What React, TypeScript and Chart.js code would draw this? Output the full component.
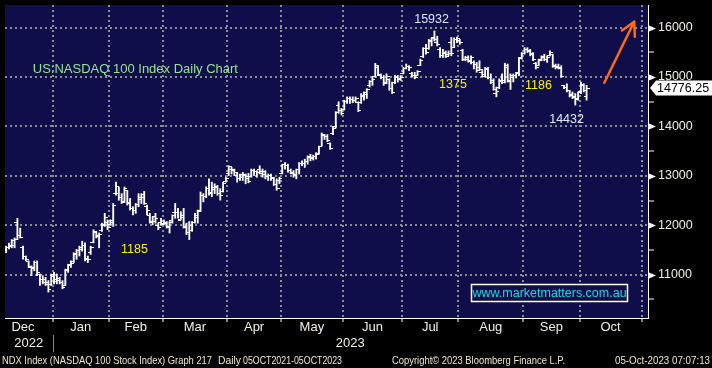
import { useEffect, useRef } from 'react';
import { Chart, registerables } from 'chart.js';

Chart.register(...registerables);

// Daily OHLC bars, trading-day index 0..207 (Dec 2022 -> 4 Oct 2023)
const OPEN = [
  11700, 11500, 11560, 11580, 11600, 12050, 11800, 11540, 11360, 11270, 11150, 11140, 11250, 11000, 10900, 10900, 10850, 10800,
  11000, 10900, 10880, 10850, 10780, 11100, 11200, 11260, 11400, 11480, 11500, 11600, 11330, 11440, 11660, 11860, 11780, 11900, 12000, 12050,
  12020, 12050, 12650, 12650, 12560, 12480, 12700, 12470, 12340, 12300, 12420, 12520, 12560, 12380, 12200, 12070, 12180, 12000, 12050,
  12040, 12050, 11950, 12100, 12250, 12250, 12120, 12200, 11980, 11850, 12000, 12060, 12150, 12300, 12600, 12580, 12750, 12660, 12720, 12760, 12640, 12680, 12880, 13050,
  13120, 13120, 13000, 12940, 12960, 13020, 12990, 12980, 13100, 13080, 13120, 13040, 13020, 12990, 13000, 12940, 12820, 12900, 13050,
  13230, 13200, 13100, 13050, 13020, 13130, 13250, 13260, 13300, 13400, 13380, 13400, 13450, 13600, 13820, 13800, 13650, 13850, 14000, 14420, 14330, 14350,
  14500, 14560, 14540, 14520, 14480, 14480, 14600, 14680, 14820, 14900, 15020, 15200, 15040, 14990, 14880, 14950, 14760, 14880, 15010, 14960, 15080,
  15180, 15220, 15080, 15030, 15040, 15240, 15420, 15580, 15580, 15720, 15800, 15700, 15560, 15440, 15490, 15450, 15700, 15600, 15760,
  15740, 15540, 15350, 15400, 15330, 15300, 15250, 15200, 15100, 15020, 15160, 15000, 14920, 14660, 14790, 14900, 14920, 15230, 14900, 15030, 15040, 15100, 15400,
  15480, 15560, 15520, 15470, 15280, 15240, 15350, 15400, 15350, 15440, 15460, 15230, 15210, 15200, 14820, 14780, 14720, 14640, 14600, 14560,
  14700, 14830, 14600,
];
const HIGH = [
  11776, 11577, 11640, 11710, 11743, 12142, 11942, 11577, 11378, 11278, 11179, 11278, 11278, 11013, 10980, 10946, 10880, 11013,
  11046, 11013, 10946, 10880, 11112, 11212, 11280, 11444, 11510, 11577, 11677, 11644, 11378, 11577, 11909, 11876, 11843, 12042, 12241, 12109,
  12109, 12441, 12873, 12773, 12640, 12773, 12707, 12541, 12375, 12441, 12640, 12640, 12687, 12408, 12242, 12175, 12242, 12043, 12142,
  12109, 12076, 12076, 12209, 12441, 12341, 12275, 12341, 12043, 12076, 12076, 12242, 12308, 12673, 12640, 12780, 12939, 12873, 12839, 12806, 12740, 12872, 12972, 13204,
  13171, 13138, 13072, 13038, 13072, 13038, 13050, 13138, 13138, 13105, 13204, 13138, 13105, 13038, 13038, 12972, 12939, 12972, 13237,
  13271, 13237, 13138, 13105, 13138, 13271, 13304, 13337, 13404, 13437, 13420, 13470, 13603, 13868, 13840, 13835, 13669, 14001, 14300, 14499, 14366, 14532,
  14599, 14599, 14599, 14599, 14499, 14665, 14699, 14765, 14931, 14997, 15276, 15230, 15064, 15030, 15064, 14964, 14897, 15030, 15030, 15030, 15196,
  15263, 15230, 15097, 15097, 15130, 15362, 15595, 15661, 15761, 15794, 15932, 15827, 15595, 15562, 15528, 15528, 15800, 15794, 15807,
  15761, 15562, 15420, 15430, 15430, 15330, 15296, 15330, 15130, 15197, 15197, 15064, 14964, 14798, 14964, 15064, 15280, 15262, 15063, 15063, 15096, 15395, 15495,
  15594, 15594, 15561, 15495, 15296, 15362, 15428, 15462, 15428, 15528, 15462, 15262, 15262, 15229, 14831, 14864, 14731, 14698, 14665, 14698,
  14897, 14864, 14831,
];
const LOW = [
  11444, 11444, 11520, 11544, 11544, 11710, 11743, 11312, 11278, 11146, 10980, 11079, 10980, 10780, 10814, 10780, 10648, 10780,
  10814, 10814, 10814, 10714, 10780, 11046, 11146, 11245, 11312, 11378, 11478, 11280, 11245, 11410, 11644, 11743, 11544, 11876, 11976, 11910,
  12009, 11976, 12607, 12507, 12441, 12460, 12408, 12308, 12209, 12242, 12375, 12441, 12421, 12209, 12043, 12009, 12043, 11910, 12009,
  12009, 11943, 11843, 12043, 12142, 12142, 12109, 11943, 11810, 11711, 11877, 12043, 12043, 12275, 12474, 12560, 12607, 12580, 12640, 12607, 12508, 12673, 12872, 13005,
  13038, 13005, 12872, 12906, 12906, 12840, 12860, 12972, 13005, 12972, 13038, 12972, 12939, 12906, 12906, 12806, 12707, 12840, 13038,
  13138, 13072, 13038, 12972, 12939, 13038, 13204, 13171, 13237, 13304, 13320, 13340, 13437, 13603, 13736, 13690, 13536, 13835, 13968, 14267, 14233, 14333,
  14466, 14466, 14480, 14500, 14300, 14466, 14532, 14566, 14798, 14831, 14997, 15030, 14964, 14831, 14864, 14732, 14665, 14864, 14897, 14931, 15064,
  15163, 15130, 14997, 14964, 15030, 15230, 15396, 15462, 15562, 15628, 15728, 15628, 15396, 15396, 15396, 15429, 15430, 15595, 15694,
  15661, 15330, 15330, 15300, 15263, 15164, 15097, 15130, 14998, 14998, 14964, 14865, 14732, 14599, 14765, 14865, 14880, 14897, 14750, 14900, 14980, 15030, 15362,
  15462, 15495, 15428, 15329, 15163, 15229, 15329, 15329, 15296, 15428, 15196, 15163, 15163, 14997, 14764, 14698, 14598, 14565, 14432, 14532,
  14665, 14698, 14532,
];
const CLOSE = [
  11480, 11540, 11600, 11690, 11720, 11800, 11760, 11360, 11300, 11170, 11130, 11240, 11050, 10900, 10840, 10800, 10690, 10960,
  10860, 10930, 10850, 10740, 11080, 11180, 11220, 11420, 11490, 11560, 11600, 11310, 11300, 11560, 11880, 11800, 11820, 12010, 12160, 11950,
  12090, 12400, 12780, 12560, 12470, 12740, 12450, 12330, 12290, 12420, 12560, 12620, 12440, 12300, 12060, 12080, 12130, 11950, 12020,
  12040, 11980, 12050, 12200, 12250, 12100, 12160, 11960, 11850, 11900, 12060, 12200, 12280, 12600, 12580, 12740, 12640, 12760, 12780, 12650, 12600, 12850, 12950, 13180,
  13100, 13060, 12950, 13020, 13000, 12950, 12880, 13110, 13080, 13070, 13080, 13090, 12990, 13010, 12960, 12830, 12750, 12950, 13220,
  13200, 13110, 13060, 13000, 13120, 13250, 13240, 13300, 13380, 13360, 13400, 13440, 13590, 13840, 13790, 13720, 13560, 13950, 14280, 14330, 14260, 14500,
  14560, 14540, 14520, 14560, 14320, 14620, 14650, 14740, 14900, 14960, 15230, 15060, 15000, 14860, 15020, 14760, 14680, 15000, 14980, 15000, 15180,
  15220, 15200, 15040, 14990, 15110, 15340, 15570, 15490, 15730, 15770, 15760, 15660, 15430, 15470, 15420, 15480, 15470, 15760, 15780,
  15700, 15350, 15360, 15320, 15400, 15260, 15130, 15150, 15060, 15180, 15000, 14880, 14750, 14700, 14940, 14890, 15200, 14920, 15000, 15040, 15080, 15380, 15470,
  15560, 15530, 15460, 15350, 15200, 15330, 15410, 15360, 15400, 15500, 15220, 15200, 15180, 15010, 14790, 14730, 14620, 14590, 14540, 14680,
  14840, 14720, 14776.25,
];

// Axis labels / ticks
const MONTH_LABELS = ['Dec', 'Jan', 'Feb', 'Mar', 'Apr', 'May', 'Jun', 'Jul', 'Aug', 'Sep', 'Oct'];
// month edges expressed in trading-day index (half way between last and first session)
const MONTH_EDGES = [-3.5, 17.5, 37.5, 56.5, 79.5, 98.5, 120.5, 141.5, 161.5, 184.5, 204.5, 226.5];
const YEAR_LABELS = ['2022', '2023'];
const Y_TICKS = [10500, 11000, 11500, 12000, 12500, 13000, 13500, 14000, 14500, 15000, 15500, 16000];
const LAST_PRICE = 14776.25;

// Axis ranges
const X_MIN = 0.6;
const X_MAX = 228.8;
const Y_MIN = 10123;
const Y_MAX = 16458;

const FONT = '"Liberation Sans", Arial, sans-serif';
const NAVY = '#0f0e4a';
const GRID = '#8e8e8e';
const AXIS_TEXT = '#f2efe4';

const TITLE = 'US:NASDAQ 100 Index Daily Chart';
const TITLE_AT = { i: 10.46, v: 15163 };
const NOTES = [
  { text: '15932', i: 152.0, v: 16159, color: '#d6e6ff' },
  { text: '1375', i: 159.6, v: 14844, color: '#f4f400' },
  { text: '1186', i: 189.9, v: 14824, color: '#f4f400' },
  { text: '1185', i: 46.56, v: 11517, color: '#f4f400' },
  { text: '14432', i: 199.9, v: 14147, color: '#e4ecff' },
];
const WEB_TEXT = 'www.marketmatters.com.au';
const WEB_BOX = { i0: 166.1, i1: 221.4, v0: 10820, v1: 10462 };
const ARROW = { i0: 213.3, v0: 14884, i1: 223.9, v1: 16119 };
const FOOTER = [
  { text: 'NDX Index (NASDAQ 100 Stock Index) Graph 217', x: 2, w: 210 },
  { text: 'Daily', x: 218, w: 23 },
  { text: '05OCT2021-05OCT2023', x: 243, w: 99 },
  { text: 'Copyright\u00A9 2023 Bloomberg Finance L.P.', x: 392, w: 173 },
  { text: '05-Oct-2023 07:07:13', x: 615, w: 95 },
];

type XmItem = { value: number; label: string | string[] };
function buildMonthTicks(): XmItem[] {
  const items: XmItem[] = [];
  MONTH_LABELS.forEach((m, k) => {
    items.push({ value: (MONTH_EDGES[k] + MONTH_EDGES[k + 1]) / 2, label: m });
  });
  const yearSpans = [
    [X_MIN, MONTH_EDGES[1]],
    [MONTH_EDGES[1], X_MAX],
  ];
  YEAR_LABELS.forEach((y, k) => {
    items.push({ value: (yearSpans[k][0] + yearSpans[k][1]) / 2, label: ['', y] });
  });
  items.sort((a, b) => a.value - b.value);
  return items;
}

const zeroPad = (s: any) => {
  s.paddingTop = 0;
  s.paddingBottom = 0;
  s.paddingLeft = 0;
  s.paddingRight = 0;
};

export default function App() {
  const canvasRef = useRef<HTMLCanvasElement | null>(null);

  useEffect(() => {
    const canvas = canvasRef.current;
    if (!canvas) return;

    const mkTick = (left: boolean) => {
      const c = document.createElement('canvas');
      c.width = 6;
      c.height = 1;
      const g = c.getContext('2d')!;
      g.fillStyle = '#ffffff';
      g.fillRect(left ? 0 : 3, 0, 3, 1);
      return c;
    };
    const openImg = mkTick(true);
    const closeImg = mkTick(false);
    const idx = CLOSE.map((_, i) => i);
    const xmItems = buildMonthTicks();

    const decor = {
      id: 'bbDecor',
      beforeDraw(chart: any) {
        const { ctx, chartArea: a, width, height } = chart;
        ctx.save();
        ctx.fillStyle = '#000000';
        ctx.fillRect(0, 0, width, height);
        ctx.fillStyle = NAVY;
        ctx.fillRect(a.left, a.top, a.right - a.left, a.bottom - a.top);
        ctx.restore();
      },
      afterDatasetsDraw(chart: any) {
        const { ctx } = chart;
        const xs = chart.scales.x;
        const ys = chart.scales.y;
        const X = (i: number) => xs.getPixelForValue(i);
        const Y = (v: number) => ys.getPixelForValue(v);
        ctx.save();
        ctx.textBaseline = 'middle';
        ctx.textAlign = 'left';
        ctx.font = `13px ${FONT}`;
        ctx.fillStyle = '#93e793';
        ctx.fillText(TITLE, X(TITLE_AT.i), Y(TITLE_AT.v));

        ctx.textAlign = 'center';
        ctx.font = `12.5px ${FONT}`;
        NOTES.forEach((n) => {
          ctx.fillStyle = n.color;
          ctx.fillText(n.text, X(n.i), Y(n.v));
        });

        // website box
        const bx0 = Math.round(X(WEB_BOX.i0)) + 0.5;
        const bx1 = Math.round(X(WEB_BOX.i1)) + 0.5;
        const by0 = Math.round(Y(WEB_BOX.v0)) + 0.5;
        const by1 = Math.round(Y(WEB_BOX.v1)) + 0.5;
        ctx.fillStyle = NAVY;
        ctx.fillRect(bx0, by0, bx1 - bx0, by1 - by0);
        ctx.strokeStyle = '#ffffff';
        ctx.lineWidth = 1.5;
        ctx.strokeRect(bx0, by0, bx1 - bx0, by1 - by0);
        ctx.fillStyle = '#10dde8';
        ctx.font = `12.5px ${FONT}`;
        ctx.fillText(WEB_TEXT, (bx0 + bx1) / 2, (by0 + by1) / 2 + 0.5);

        // orange arrow
        const x1 = X(ARROW.i0), y1 = Y(ARROW.v0), x2 = X(ARROW.i1), y2 = Y(ARROW.v1);
        ctx.strokeStyle = '#ff6a14';
        ctx.lineWidth = 2.5;
        ctx.lineCap = 'round';
        ctx.lineJoin = 'round';
        ctx.beginPath();
        ctx.moveTo(x1, y1);
        ctx.lineTo(x2, y2);
        ctx.stroke();
        const ang = Math.atan2(y2 - y1, x2 - x1);
        const L = 15, spread = 0.5;
        ctx.beginPath();
        ctx.moveTo(x2 - L * Math.cos(ang - spread), y2 - L * Math.sin(ang - spread));
        ctx.lineTo(x2, y2);
        ctx.lineTo(x2 - L * Math.cos(ang + spread), y2 - L * Math.sin(ang + spread));
        ctx.stroke();
        ctx.restore();
      },
      afterDraw(chart: any) {
        const { ctx, chartArea: a, width, height } = chart;
        const xs = chart.scales.x;
        const ys = chart.scales.y;
        ctx.save();
        // major y tick pointers
        ctx.fillStyle = '#ffffff';
        Y_TICKS.filter((v) => v % 1000 === 0).forEach((v) => {
          const py = Math.round(ys.getPixelForValue(v)) + 0.5;
          ctx.beginPath();
          ctx.moveTo(a.right + 1, py - 3);
          ctx.lineTo(a.right + 8, py);
          ctx.lineTo(a.right + 1, py + 3);
          ctx.closePath();
          ctx.fill();
        });
        // last price box
        const lp = ys.getPixelForValue(LAST_PRICE);
        ctx.beginPath();
        ctx.moveTo(a.right + 2, lp);
        ctx.lineTo(a.right + 8, lp - 7.5);
        ctx.lineTo(width, lp - 7.5);
        ctx.lineTo(width, lp + 7.5);
        ctx.lineTo(a.right + 8, lp + 7.5);
        ctx.closePath();
        ctx.fill();
        ctx.fillStyle = '#000000';
        ctx.font = `12.5px ${FONT}`;
        ctx.textAlign = 'left';
        ctx.textBaseline = 'middle';
        ctx.fillText(LAST_PRICE.toFixed(2), a.right + 9, lp + 0.5);

        // year separator
        const sx = Math.round(xs.getPixelForValue(MONTH_EDGES[1])) + 0.5;
        ctx.strokeStyle = '#8a8a8a';
        ctx.lineWidth = 1;
        ctx.beginPath();
        ctx.moveTo(sx, a.bottom + 17);
        ctx.lineTo(sx, a.bottom + 34);
        ctx.stroke();

        // footer
        ctx.fillStyle = '#efe7cc';
        ctx.font = `11px ${FONT}`;
        ctx.textAlign = 'left';
        ctx.textBaseline = 'middle';
        FOOTER.forEach((f) => ctx.fillText(f.text, f.x, height - 7, f.w));
        ctx.restore();
      },
    };

    const chart = new Chart(canvas, {
      type: 'bar',
      data: {
        datasets: [
          {
            type: 'bar',
            label: 'High-Low',
            data: idx.map((i) => ({ x: i, y: [LOW[i], HIGH[i]] })) as any,
            backgroundColor: '#ffffff',
            borderWidth: 0,
            barThickness: 1.2,
            xAxisID: 'x',
            yAxisID: 'y',
          } as any,
          {
            type: 'scatter',
            label: 'Open',
            data: idx.map((i) => ({ x: i, y: OPEN[i] })),
            pointStyle: openImg as any,
            pointRadius: 1,
            showLine: false,
            xAxisID: 'x',
            yAxisID: 'y',
          } as any,
          {
            type: 'scatter',
            label: 'Close',
            data: idx.map((i) => ({ x: i, y: CLOSE[i] })),
            pointStyle: closeImg as any,
            pointRadius: 1,
            showLine: false,
            xAxisID: 'x',
            yAxisID: 'y',
          } as any,
        ],
      },
      options: {
        animation: false,
        responsive: false,
        events: [],
        layout: { padding: 0 },
        plugins: { legend: { display: false }, tooltip: { enabled: false } },
        scales: {
          x: {
            type: 'linear',
            position: 'bottom',
            weight: 0,
            min: X_MIN,
            max: X_MAX,
            offset: false,
            afterBuildTicks: (s: any) => {
              s.ticks = MONTH_EDGES.slice(1).map((v) => ({ value: v }));
            },
            afterFit: (s: any) => {
              s.height = 0;
              zeroPad(s);
            },
            ticks: { display: false },
            grid: {
              offset: false,
              color: GRID,
              lineWidth: 2,
              drawTicks: true,
              tickLength: 4,
              tickColor: '#ffffff',
              tickWidth: 1,
              tickBorderDash: [],
            },
            border: { display: true, color: '#ffffff', width: 1, dash: [2, 3] },
          },
          xm: {
            type: 'linear',
            position: 'bottom',
            weight: 1,
            min: X_MIN,
            max: X_MAX,
            offset: false,
            afterBuildTicks: (s: any) => {
              s.ticks = xmItems.map((t) => ({ value: t.value }));
            },
            afterFit: (s: any) => {
              s.height = 50;
              zeroPad(s);
            },
            grid: { display: false, drawTicks: false, offset: false },
            border: { display: false },
            ticks: {
              autoSkip: false,
              maxRotation: 0,
              minRotation: 0,
              padding: 2,
              color: AXIS_TEXT,
              font: { family: FONT, size: 13 },
              callback: (_v: any, index: number) => xmItems[index].label,
            },
          },
          y: {
            type: 'linear',
            position: 'right',
            min: Y_MIN,
            max: Y_MAX,
            afterBuildTicks: (s: any) => {
              s.ticks = Y_TICKS.map((v) => ({ value: v }));
            },
            afterFit: (s: any) => {
              s.width = 64;
              zeroPad(s);
            },
            grid: {
              color: (c: any) => (c.tick && c.tick.value % 1000 === 0 ? GRID : 'rgba(0,0,0,0)'),
              lineWidth: 2,
              drawTicks: true,
              tickLength: 6,
              tickWidth: 1,
              tickColor: (c: any) => (c.tick && c.tick.value % 1000 === 0 ? 'rgba(0,0,0,0)' : '#ffffff'),
              tickBorderDash: [],
            },
            border: { display: true, color: '#ffffff', width: 1, dash: [2, 3] },
            ticks: {
              autoSkip: false,
              padding: 4,
              color: AXIS_TEXT,
              font: { family: FONT, size: 12.5 },
              callback: (v: any) => (Number(v) % 1000 === 0 ? String(v) : ''),
            },
          },
        },
      } as any,
      plugins: [decor],
    });

    return () => chart.destroy();
  }, []);

  return (
    <div style={{ position: 'absolute', left: 0, top: 0, width: 712, height: 368, background: '#000' }}>
      <canvas ref={canvasRef} width={712} height={368} style={{ display: 'block' }} />
    </div>
  );
}
